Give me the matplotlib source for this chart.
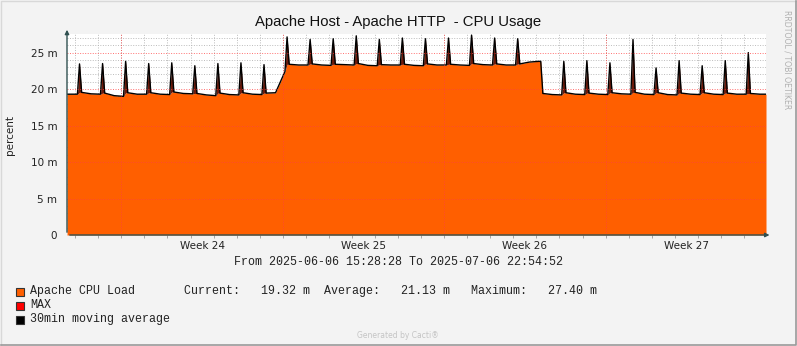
import matplotlib
matplotlib.use("Agg")
import matplotlib.pyplot as plt
import matplotlib.dates as mdates
from matplotlib.lines import Line2D
from matplotlib.patches import Rectangle
import pandas as pd

t_start = pd.Timestamp("2025-06-06 15:28:28")
t_end = pd.Timestamp("2025-07-06 22:54:52")

# one short load spike per day (values in milli-percent units, "m")
spike_time = pd.date_range("2025-06-07 04:30", periods=30, freq="D")
spike_peak = [23.45, 23.5, 23.8, 23.5, 23.6, 23.2, 23.5, 23.6, 23.35, 27.15,
              26.8, 26.9, 27.3, 26.8, 27.0, 26.9, 27.0, 27.4, 27.0, 26.9,
              23.8, 23.8, 23.9, 23.6, 26.8, 22.9, 23.9, 23.2, 23.9, 25.0]
# level right after the spike, at mid day, and just before the next spike
level_after = [19.55, 19.45, 19.5, 19.5, 19.6, 19.4, 19.45, 19.5, 19.45, 23.4,
               23.45, 23.4, 23.5, 23.35, 23.4, 23.45, 23.4, 23.5, 23.45, 23.45,
               19.4, 19.5, 19.45, 19.5, 19.55, 19.5, 19.45, 19.5, 19.45, 19.4]
level_mid = [19.35, 19.1, 19.3, 19.3, 19.4, 19.2, 19.25, 19.3, 19.5, 23.3,
             23.3, 23.35, 23.25, 23.3, 23.25, 23.3, 23.3, 23.35, 23.3, 23.7,
             19.25, 19.3, 19.3, 19.35, 19.3, 19.25, 19.3, 19.3, 19.3, 19.3]
level_before = [19.3, 19.0, 19.3, 19.25, 19.35, 19.1, 19.2, 19.25, 22.4, 23.3,
                23.25, 23.3, 23.2, 23.3, 23.2, 23.3, 23.25, 23.3, 23.3, 23.8,
                19.2, 19.25, 19.25, 19.3, 19.25, 19.2, 19.25, 19.25, 19.3, 19.3]
start_level = 19.3

week_start = pd.date_range("2025-06-09", periods=4, freq="7D")
week_names = ["Week 24", "Week 25", "Week 26", "Week 27"]
y_ticks = [0, 5, 10, 15, 20, 25]
y_labels = ["0", "5 m", "10 m", "15 m", "20 m", "25 m"]

legend_names = ["Apache CPU Load", "MAX", "30min moving average"]
legend_colors = ["#FF5F00", "#FF0000", "#000000"]
stat_current = 19.32
stat_average = 21.13
stat_maximum = 27.40

# build the curve: flat levels with a narrow spike each day
w = pd.Timedelta(hours=2.2)
times = [t_start]
vals = [start_level]
base = [start_level]
prev = start_level
for k, ts in enumerate(spike_time):
    times += [ts - w, ts, ts + w, ts + pd.Timedelta(hours=12)]
    vals += [prev, spike_peak[k], level_after[k], level_mid[k]]
    base += [prev, min(spike_peak[k], max(prev, level_after[k])), level_after[k], level_mid[k]]
    prev = level_before[k]
times.append(t_end)
vals.append(prev)
base.append(prev)

fig = plt.figure(figsize=(7.97, 3.46), dpi=100)
fig.patch.set_facecolor("#F3F3F3")
W, H = 797, 346
ax = fig.add_axes([67 / W, 111 / H, 699 / W, 201 / H])
ax.set_facecolor("white")

ax.fill_between(times, 0, base, color="#FF5F00", lw=0, zorder=2)
ax.fill_between(times, base, vals, color="#6e1a0a", lw=0, zorder=2)
ax.plot(times, vals, color="black", lw=1.0, zorder=3)

ax.set_xlim(t_start, t_end)
ax.set_ylim(0, 27.55)

# grid
dotted = (0, (1, 1.6))
ax.xaxis.set_minor_locator(mdates.DayLocator())
ax.yaxis.set_minor_locator(matplotlib.ticker.MultipleLocator(1))
ax.grid(which="minor", color="#b0b0b0", alpha=0.85, lw=0.7, ls=dotted, zorder=4)
for d in week_start:
    ax.axvline(d, color="#ff4040", alpha=0.75, lw=0.7, ls=dotted, zorder=4)
for v in y_ticks[1:]:
    ax.axhline(v, color="#ff4040", alpha=0.75, lw=0.7, ls=dotted, zorder=4)

ax.set_xticks(week_start + pd.Timedelta(hours=84))
ax.set_xticklabels(week_names)
ax.set_yticks(y_ticks)
ax.set_yticklabels(y_labels)
ax.tick_params(which="major", length=0, labelsize=7.5, colors="#222222")
ax.tick_params(axis="x", which="major", pad=4)
ax.tick_params(axis="y", which="major", pad=7)
ax.tick_params(axis="x", which="minor", length=2, color="#999999", direction="out")
ax.tick_params(axis="y", which="minor", length=0)

for s in ax.spines.values():
    s.set_visible(False)
axis_col = "#305050"
ax.annotate("", xy=(0, 1.035), xytext=(0, 0), xycoords="axes fraction",
            arrowprops=dict(arrowstyle="-|>", color=axis_col, lw=1, mutation_scale=6),
            annotation_clip=False, zorder=6)
ax.annotate("", xy=(1.009, 0), xytext=(0, 0), xycoords="axes fraction",
            arrowprops=dict(arrowstyle="-|>", color=axis_col, lw=1, mutation_scale=6),
            annotation_clip=False, zorder=6)

# texts
fig.text(398 / W, 1 - 22 / H, "Apache Host - Apache HTTP  - CPU Usage",
         ha="center", va="center", fontsize=10.7, family="Liberation Sans",
         color="#111111")
fig.text(10 / W, 1 - 135 / H, "percent", rotation=90, ha="center", va="center",
         fontsize=7.5, color="#222222")
fig.text(787 / W, 1 - 60 / H, "RRDTOOL / TOBI OETIKER", rotation=270,
         ha="center", va="center", fontsize=5.6, color="#b0b0b0")
mono = "Liberation Mono"
fig.text(398 / W, 1 - 262 / H, "From 2025-06-06 15:28:28 To 2025-07-06 22:54:52",
         ha="center", va="center", family=mono, fontsize=8.4, color="#222222")

row1 = (f"{legend_names[0]:<22}Current:   {stat_current:.2f} m  "
        f"Average:   {stat_average:.2f} m   Maximum:   {stat_maximum:.2f} m")
rows = [row1, legend_names[1], legend_names[2]]
for i, (txt, col) in enumerate(zip(rows, legend_colors)):
    yc = 291 + 14 * i
    fig.patches.append(Rectangle((15.5 / W, 1 - (yc + 4.5) / H), 8 / W, 8 / H,
                                 transform=fig.transFigure, facecolor=col,
                                 edgecolor="#333333", lw=0.8))
    fig.text(30 / W, 1 - yc / H, txt, ha="left", va="center", family=mono,
             fontsize=8.4, color="#222222")

fig.text(398 / W, 1 - 335 / H, "Generated by Cacti\u00ae", ha="center", va="center",
         fontsize=5.5, color="#c4c4c4")

# outer frame
fig.lines.append(Line2D([0.5 / W, 0.5 / W, 1 - 0.5 / W], [0.5 / H, 1 - 0.5 / H, 1 - 0.5 / H],
                        transform=fig.transFigure, color="#d8d8d8", lw=1))
fig.lines.append(Line2D([0.5 / W, 1 - 0.7 / W, 1 - 0.7 / W], [0.7 / H, 0.7 / H, 1 - 0.5 / H],
                        transform=fig.transFigure, color="#999999", lw=1.2))

fig.savefig("out.png", dpi=100, facecolor=fig.get_facecolor())
